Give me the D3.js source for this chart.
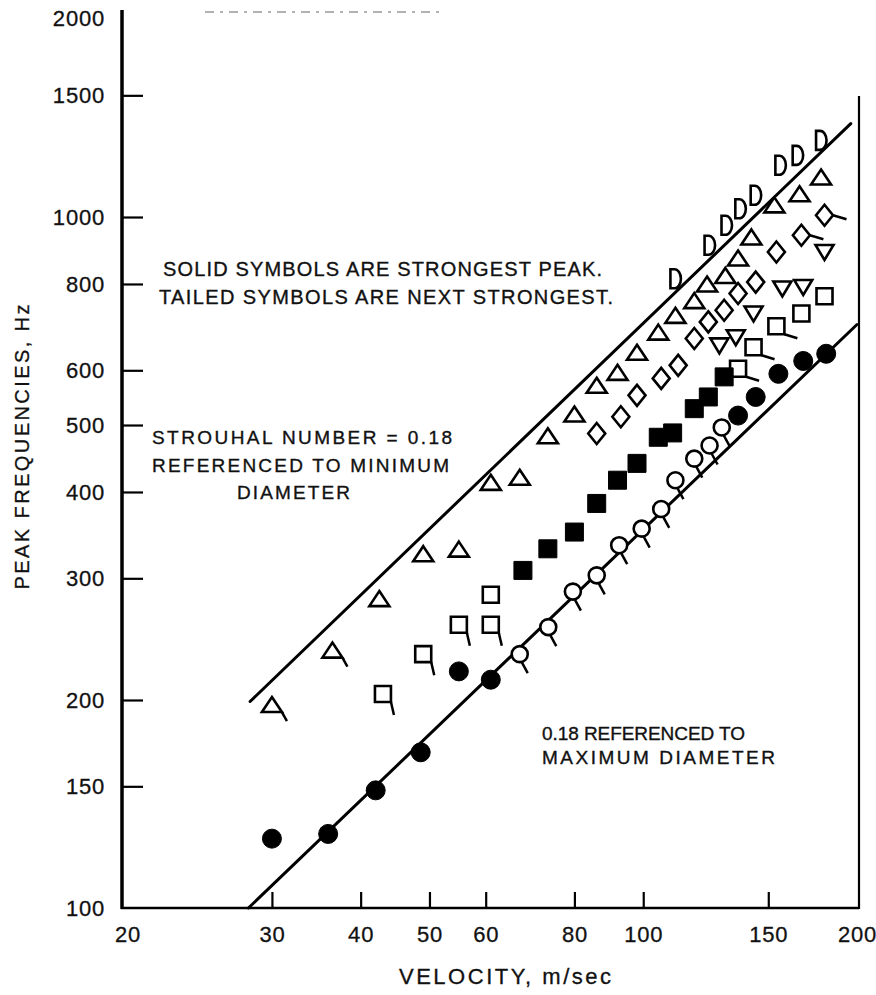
<!DOCTYPE html>
<html>
<head>
<meta charset="utf-8">
<script src="https://cdn.jsdelivr.net/npm/d3@7"></script>
<style>
  body { margin: 0; background: #fff; }
  svg { display: block; }
  text { font-family: "Liberation Sans", Arial, Helvetica, sans-serif; fill: #111; }
</style>
</head>
<body>
<svg width="876" height="995"></svg>
<script>
// velocity (m/sec), peak frequency (Hz) pairs
const solidCircles = [[30,126],[36,128],[42,148],[48.6,168],[55,220],[61,214],
                      [136,516],[144,549],[155,593],[168,619],[181,634]];
const tailedCircles = [[67,233],[73.5,255],[79.6,287],[86,303],[92.5,335],[99.5,354],
                       [106,378],[111,416],[118,447],[124,467],[129,496]];
const solidSquares = [[67.7,308],[73.4,331],[80,350],[86,385],[92,416],[98,440],
                      [105,480],[110,487],[118,528],[123.5,549],[130,587]];
const tailedSquaresLow = [[43,204],[49,233],[55,257],[61,257]];
const tailedSquaresHigh = [[136,603],[143,648],[154,695]];
const openSquares = [[61,284],[167,725],[180,768]];
const triangles = [[42.5,279],[49,324],[55,329],[61,411],[67,418],[73.4,480],[80,516],
                   [86,568],[92,593],[98,634],[105,678],[111,717],[118,753],[123,796],
                   [130.5,819],[136,868],[142,931],[153,1036],[166,1075],[178,1137]];
const tailedTriangles = [[30,196],[36.5,235]];
const downTriangles = [[128,652],[135,670],[143,725],[157,788],[168,792],[180,890]];
const diamonds = [[86,486],[93,514],[98,552],[106,584],[112,610],[118,667],[123.5,705],
                  [130,733],[136,775],[144,805],[154,890]];
const tailedDiamonds = [[167,941],[180,1006]];
const halfDiscs = [[111,814],[124,910],[131,973],[137,1028],[144,1075],[156,1188],
                   [165,1228],[178,1291]];

// Strouhal lines (end points)
const minDiameterLine = [[27.95,199],[196,1365]];
const maxDiameterLine = [[27.8,100],[200,699]];

const xLabels = [20,30,40,50,60,80,100,150,200];
const yLabels = [100,150,200,300,400,500,600,800,1000,1500,2000];

const svg = d3.select('svg');
const x = d3.scaleLog().domain([18.45, 200]).range([122, 857]);
const y = d3.scaleLog().domain([100, 2000]).range([908, 9]);

// shapes, drawn around (0,0)
const SHAPES = {
  triUp:   'M0,-9L10,6L-10,6Z',
  triDown: 'M-9,-7L9,-7L0,8Z',
  diamond: 'M0,-10.5L8.5,0L0,10.5L-8.5,0Z',
  square:  'M-8,-8H8V8H-8Z',
  bigSq:   'M-9,-9H9V9H-9Z',
  half:    'M-5,-9.5L-5,9.5L-1,9.5A6.5,9.5 0 0 0 -1,-9.5Z'
};
// tails as [x1,y1,x2,y2] relative to the symbol centre
const TAILS = {
  triUp:   [10,6,15,15],
  squareLow: [8,8,11,21],
  squareHigh: [8,8,21,12],
  circle:  [2,8,8,19],
  diamond: [8.5,0,22,4]
};

function plotPaths(data, shape, cls, filled, tail){
  let g = svg.append('g').attr('class', cls);
  let ms = g.selectAll('g').data(data).enter().append('g')
            .attr('transform', d => `translate(${x(d[0])},${y(d[1])})`);
  if (shape === 'circle') {
    ms.append('circle').attr('r', filled ? 9.5 : 8);
  } else {
    ms.append('path').attr('d', SHAPES[shape]);
  }
  ms.selectAll('circle,path')
    .attr('fill', filled ? '#000' : '#fff')
    .attr('stroke', '#000').attr('stroke-width', filled ? 1 : 2.6)
    .attr('stroke-linejoin', 'miter');
  if (tail) {
    ms.append('line').attr('x1', tail[0]).attr('y1', tail[1])
      .attr('x2', tail[2]).attr('y2', tail[3])
      .attr('stroke', '#000').attr('stroke-width', 2.5);
  }
}

// frame
svg.append('line').attr('x1', 122).attr('x2', 122).attr('y1', 10).attr('y2', 909)
   .attr('stroke', '#000').attr('stroke-width', 3.5);
svg.append('line').attr('x1', 121).attr('x2', x(200) + 2).attr('y1', 908).attr('y2', 908)
   .attr('stroke', '#000').attr('stroke-width', 2.5);
svg.append('line').attr('x1', x(200) + 2).attr('x2', x(200) + 2).attr('y1', 96).attr('y2', 909)
   .attr('stroke', '#000').attr('stroke-width', 2.2);
svg.append('line').attr('x1', 205).attr('x2', 440).attr('y1', 12).attr('y2', 12)
   .attr('stroke', '#999').attr('stroke-width', 1.3).attr('stroke-dasharray', '9,6,3,6');

// axes
let yAxis = svg.append('g').attr('transform', 'translate(122,0)')
  .call(d3.axisLeft(y).tickValues(yLabels).tickFormat(d3.format('d'))
          .tickSizeInner(-21).tickSizeOuter(0).tickPadding(17));
yAxis.select('.domain').remove();
yAxis.selectAll('.tick').filter(d => d === 100 || d === 2000).select('line').remove();
yAxis.selectAll('.tick line').attr('stroke-width', 2.2);
yAxis.selectAll('.tick text').attr('font-size', 22).attr('letter-spacing', 0.8)
     .attr('fill', '#111').attr('stroke', '#111').attr('stroke-width', 0.3)
     .attr('font-family', '"Liberation Sans", Arial, sans-serif');
// top label sits a little below its tick, as in the original
yAxis.selectAll('.tick').filter(d => d === 2000).select('text').attr('dy', '0.75em');

let xAxis = svg.append('g').attr('transform', 'translate(0,908)')
  .call(d3.axisBottom(x).tickValues(xLabels).tickFormat(d3.format('d'))
          .tickSizeInner(-16).tickSizeOuter(0).tickPadding(18));
xAxis.select('.domain').remove();
xAxis.selectAll('.tick').filter(d => d === 20 || d === 200).select('line').remove();
xAxis.selectAll('.tick').filter(d => d === 20).attr('transform', 'translate(128,0)');
xAxis.selectAll('.tick line').attr('stroke-width', 2.2);
xAxis.selectAll('.tick text').attr('font-size', 22).attr('letter-spacing', 0.8)
     .attr('fill', '#111').attr('stroke', '#111').attr('stroke-width', 0.3)
     .attr('font-family', '"Liberation Sans", Arial, sans-serif');

// Strouhal lines
const lineGen = d3.line().x(d => x(d[0])).y(d => y(d[1]));
[minDiameterLine, maxDiameterLine].forEach(l => {
  svg.append('path').attr('d', lineGen(l)).attr('fill', 'none')
     .attr('stroke', '#000').attr('stroke-width', 3).attr('stroke-linecap', 'round');
});

// symbols
plotPaths(triangles, 'triUp', 'tri', false);
plotPaths(tailedTriangles, 'triUp', 'tri-t', false, TAILS.triUp);
plotPaths(downTriangles, 'triDown', 'dtri', false);
plotPaths(diamonds, 'diamond', 'dia', false);
plotPaths(tailedDiamonds, 'diamond', 'dia-t', false, TAILS.diamond);
plotPaths(halfDiscs, 'half', 'half', false);
plotPaths(openSquares, 'square', 'sq', false);
plotPaths(tailedSquaresLow, 'square', 'sq-t', false, TAILS.squareLow);
plotPaths(tailedSquaresHigh, 'square', 'sq-t2', false, TAILS.squareHigh);
plotPaths(solidSquares, 'bigSq', 'sq-f', true);
plotPaths(tailedCircles, 'circle', 'c-t', false, TAILS.circle);
plotPaths(solidCircles, 'circle', 'c-f', true);

// notes
function note(t, x0, yb, w, fs){
  svg.append('text').attr('x', x0).attr('y', yb).attr('font-size', fs)
     .attr('stroke', '#111').attr('stroke-width', 0.35)
     .attr('textLength', w).attr('lengthAdjust', 'spacing').text(t);
}
note('SOLID SYMBOLS ARE STRONGEST PEAK.', 163, 276, 439, 20);
note('TAILED SYMBOLS ARE NEXT STRONGEST.', 159, 304, 454, 20);
note('STROUHAL NUMBER  = 0.18', 152, 444, 300, 19);
note('REFERENCED TO MINIMUM', 152, 472, 297, 19);
note('DIAMETER', 237, 499, 113, 19);
note('0.18 REFERENCED TO', 542, 740, 203, 19);
note('MAXIMUM DIAMETER', 542, 764, 233, 19);

// axis titles
svg.append('text').attr('x', 505).attr('y', 984).attr('text-anchor', 'middle')
   .attr('font-size', 22).attr('stroke', '#111').attr('stroke-width', 0.3)
   .attr('textLength', 212).attr('lengthAdjust', 'spacing')
   .text('VELOCITY, m/sec');
svg.append('text').attr('transform', 'translate(29,447) rotate(-90)')
   .attr('text-anchor', 'middle').attr('font-size', 20)
   .attr('stroke', '#111').attr('stroke-width', 0.3)
   .attr('textLength', 285).attr('lengthAdjust', 'spacing')
   .text('PEAK FREQUENCIES, Hz');
</script>
</body>
</html>
